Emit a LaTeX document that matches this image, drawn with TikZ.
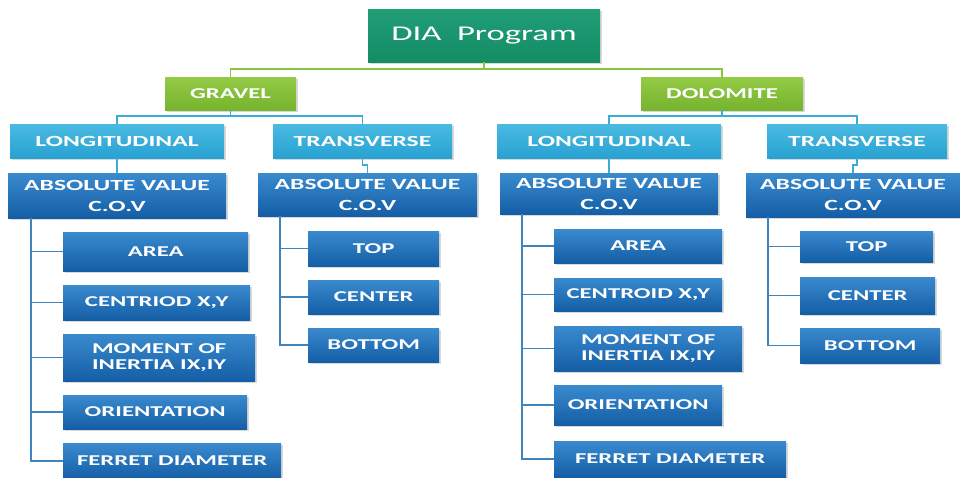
\documentclass[tikz,border=0pt]{standalone}
\usepackage{fontspec}
\newfontfamily\boxfont[FakeStretch=1.65]{Carlito}
\usepackage{tikz}
\usetikzlibrary{positioning, calc, shadows}
\usepackage{xcolor}
\definecolor{rootgreen}{RGB}{32,158,118}
\definecolor{rootdark}{RGB}{20,140,100}
\definecolor{limetop}{RGB}{148,202,70}
\definecolor{limebot}{RGB}{118,180,46}
\definecolor{skytop}{RGB}{74,186,226}
\definecolor{skybot}{RGB}{40,162,210}
\definecolor{navytop}{RGB}{58,138,206}
\definecolor{navybot}{RGB}{20,94,166}
\definecolor{limeline}{RGB}{140,198,63}
\definecolor{skyline}{RGB}{58,172,214}
\definecolor{navyline}{RGB}{64,132,190}

\begin{document}
\begin{tikzpicture}[x=1pt, y=-1pt,
  box/.style={inner sep=0pt, align=center, text=white,
    drop shadow={shadow xshift=1.5pt, shadow yshift=-1.5pt, opacity=.3}},
  rootbox/.style={box, top color=rootgreen, bottom color=rootdark,
    minimum width=232pt, minimum height=53pt, font=\boxfont\fontsize{21}{23}\selectfont},
  matbox/.style={box, top color=limetop, bottom color=limebot,
    minimum height=33pt, font=\boxfont\bfseries\fontsize{15}{17}\selectfont},
  dirbox/.style={box, top color=skytop, bottom color=skybot,
    minimum height=34pt, font=\boxfont\bfseries\fontsize{15.5}{17}\selectfont},
  absbox/.style={box, top color=navytop, bottom color=navybot,
    font=\boxfont\bfseries\fontsize{15.5}{21}\selectfont},
  leaf/.style={box, anchor=west, top color=navytop, bottom color=navybot,
    font=\boxfont\bfseries\fontsize{15}{16}\selectfont},
  greenwire/.style={limeline, line width=1.6pt},
  skywire/.style={skyline, line width=1.6pt},
  navywire/.style={navyline, line width=1.4pt}]
  \useasboundingbox (0,0) rectangle (960,477);

  % top levels
  \node[rootbox] (root) at (484,35.5) {DIA\ \ Program};
  \node[matbox, minimum width=131pt] (gravel) at (230.5,93.5) {GRAVEL};
  \node[matbox, minimum width=162pt] (dolomite) at (722,93.5) {DOLOMITE};
  \draw[greenwire] (root.south) -- ++(0,7) -| (gravel.north);
  \draw[greenwire] (root.south) -- ++(0,7) -| (dolomite.north);

  % gravel
  \node[dirbox, minimum width=214pt] (gL) at (117,141) {LONGITUDINAL};
  \node[dirbox, minimum width=179pt] (gT) at (362.5,141) {TRANSVERSE};
  \draw[skywire] (gravel.south) -- ++(0,6) -| (gL.north);
  \draw[skywire] (gravel.south) -- ++(0,6) -| (gT.north);
  \node[absbox, minimum width=218pt, minimum height=45pt] (gLa) at (117,195.5) {ABSOLUTE VALUE\\C.O.V};
  \node[absbox, minimum width=219pt, minimum height=43pt] (gTa) at (367.5,194.5) {ABSOLUTE VALUE\\C.O.V};
  \draw[skywire] (gL.south) -- (gLa.north);
  \draw[skywire] (gT.south) -- ++(0,7) -| (gTa.north);

  \node[leaf, minimum width=185pt, minimum height=39pt] (gL1) at (63,251.5) {AREA};
  \node[leaf, minimum width=187pt, minimum height=35pt] (gL2) at (63,302.5) {CENTRIOD X,Y};
  \node[leaf, minimum width=192pt, minimum height=47pt] (gL3) at (63,357.5) {MOMENT OF\\INERTIA IX,IY};
  \node[leaf, minimum width=184pt, minimum height=34pt] (gL4) at (63,412) {ORIENTATION};
  \node[leaf, minimum width=218pt, minimum height=36pt] (gL5) at (63,461) {FERRET DIAMETER};
  \foreach \k in {1,...,5}
    \draw[navywire] ([xshift=23pt]gLa.south west) |- (gL\k.west);

  \node[leaf, minimum width=131pt, minimum height=35pt] (gT1) at (308,248.5) {TOP};
  \node[leaf, minimum width=131pt, minimum height=34pt] (gT2) at (308,297) {CENTER};
  \node[leaf, minimum width=131pt, minimum height=34pt] (gT3) at (308,345) {BOTTOM};
  \foreach \k in {1,2,3}
    \draw[navywire] ([xshift=22pt]gTa.south west) |- (gT\k.west);

  % dolomite
  \node[dirbox, minimum width=224pt] (dL) at (609,141) {LONGITUDINAL};
  \node[dirbox, minimum width=180pt] (dT) at (857,141) {TRANSVERSE};
  \draw[skywire] (dolomite.south) -- ++(0,6) -| (dL.north);
  \draw[skywire] (dolomite.south) -- ++(0,6) -| (dT.north);
  \node[absbox, minimum width=218pt, minimum height=41pt] (dLa) at (609,193.5) {ABSOLUTE VALUE\\C.O.V};
  \node[absbox, minimum width=214pt, minimum height=44pt] (dTa) at (853,195) {ABSOLUTE VALUE\\C.O.V};
  \draw[skywire] (dL.south) -- (dLa.north);
  \draw[skywire] (dT.south) -- ++(0,7) -| (dTa.north);

  \node[leaf, minimum width=168pt, minimum height=34pt] (dL1) at (554,246) {AREA};
  \node[leaf, minimum width=168pt, minimum height=33pt] (dL2) at (554,294.5) {CENTROID X,Y};
  \node[leaf, minimum width=188pt, minimum height=45pt] (dL3) at (554,348.5) {MOMENT OF\\INERTIA IX,IY};
  \node[leaf, minimum width=168pt, minimum height=40pt] (dL4) at (554,405) {ORIENTATION};
  \node[leaf, minimum width=232pt, minimum height=36pt] (dL5) at (554,459) {FERRET DIAMETER};
  \foreach \k in {1,...,5}
    \draw[navywire] ([xshift=22pt]dLa.south west) |- (dL\k.west);

  \node[leaf, minimum width=133pt, minimum height=31pt] (dT1) at (800,246.5) {TOP};
  \node[leaf, minimum width=135pt, minimum height=37pt] (dT2) at (800,295.5) {CENTER};
  \node[leaf, minimum width=140pt, minimum height=35pt] (dT3) at (800,345.5) {BOTTOM};
  \foreach \k in {1,2,3}
    \draw[navywire] ([xshift=22pt]dTa.south west) |- (dT\k.west);
\end{tikzpicture}
\end{document}
